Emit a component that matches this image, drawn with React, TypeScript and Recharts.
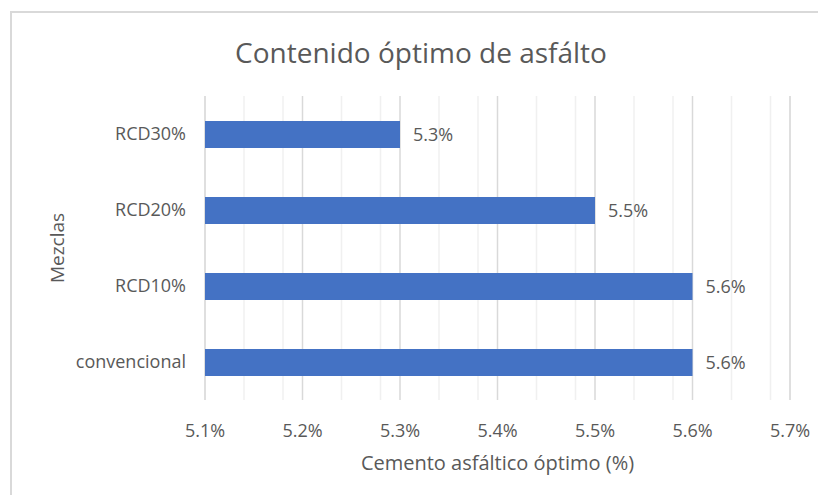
import React from 'react';
import {
  BarChart,
  Bar,
  XAxis,
  YAxis,
  CartesianGrid,
  LabelList,
} from 'recharts';

const mezclas = ['RCD30%', 'RCD20%', 'RCD10%', 'convencional'];
const contenido = [5.3, 5.5, 5.6, 5.6];
const majorTicks = [5.1, 5.2, 5.3, 5.4, 5.5, 5.6, 5.7];
const minorTicks = [
  5.12, 5.14, 5.16, 5.18, 5.22, 5.24, 5.26, 5.28, 5.32, 5.34, 5.36, 5.38,
  5.42, 5.44, 5.46, 5.48, 5.52, 5.54, 5.56, 5.58, 5.62, 5.64, 5.66, 5.68,
];

const data = mezclas.map((name, i) => ({ name, value: contenido[i] }));

const FONT = '"Open Sans", "Segoe UI", sans-serif';
const TEXT = '#595959';
const pct = (v: number) => `${Number(v).toFixed(1)}%`;

export default function App() {
  return (
    <div
      style={{
        position: 'absolute',
        left: 0,
        top: 0,
        width: 818,
        height: 495,
        overflow: 'hidden',
        background: '#fff',
        fontFamily: FONT,
      }}
    >
      {/* marco gris del gráfico, se corta por derecha y abajo */}
      <div
        style={{
          position: 'absolute',
          left: 10,
          top: 11,
          width: 900,
          height: 600,
          borderTop: '2px solid #d9d9d9',
          borderLeft: '2px solid #d9d9d9',
        }}
      />
      <BarChart
        width={818}
        height={495}
        data={data}
        layout="vertical"
        margin={{ top: 96, right: 28, bottom: 0, left: 0 }}
        barSize={27}
      >
        <XAxis
          xAxisId="minor"
          type="number"
          domain={[5.1, 5.7]}
          ticks={minorTicks}
          allowDataOverflow
          hide
        />
        <CartesianGrid
          xAxisId="minor"
          horizontal={false}
          stroke="#f0f0f0"
          strokeWidth={1.5}
        />
        <CartesianGrid horizontal={false} stroke="#d9d9d9" strokeWidth={1.5} />
        <XAxis
          type="number"
          domain={[5.1, 5.7]}
          ticks={majorTicks}
          allowDataOverflow
          interval={0}
          axisLine={false}
          tickLine={false}
          tickSize={0}
          tickMargin={24}
          height={95}
          tickFormatter={pct}
          tick={{ fill: TEXT, fontSize: 18, fontFamily: FONT }}
        />
        <YAxis
          type="category"
          dataKey="name"
          width={205}
          axisLine={false}
          tickLine={false}
          tickSize={0}
          tickMargin={19}
          tick={{ fill: TEXT, fontSize: 18, fontFamily: FONT }}
        />
        <Bar dataKey="value" fill="#4472C4" isAnimationActive={false}>
          <LabelList
            dataKey="value"
            position="right"
            offset={13}
            formatter={(v: React.ReactNode) => pct(Number(v))}
            style={{ fill: TEXT, fontSize: 18, fontFamily: FONT }}
          />
        </Bar>
      </BarChart>
      <div
        style={{
          position: 'absolute',
          left: 0,
          width: 842,
          top: 33,
          textAlign: 'center',
          fontSize: 28,
          color: TEXT,
          lineHeight: '38px',
        }}
      >
        Contenido óptimo de asfálto
      </div>
      <div
        style={{
          position: 'absolute',
          left: 205,
          width: 585,
          top: 449,
          textAlign: 'center',
          fontSize: 20,
          color: TEXT,
          lineHeight: '28px',
        }}
      >
        Cemento asfáltico óptimo (%)
      </div>
      <div
        style={{
          position: 'absolute',
          left: 57 - 60,
          top: 248 - 14,
          width: 120,
          textAlign: 'center',
          fontSize: 19,
          color: TEXT,
          lineHeight: '28px',
          transform: 'rotate(-90deg)',
        }}
      >
        Mezclas
      </div>
    </div>
  );
}
